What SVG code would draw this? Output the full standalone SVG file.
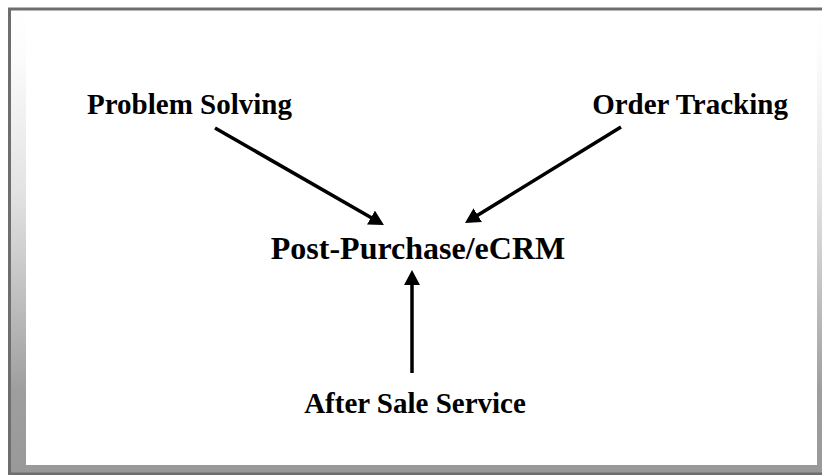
<svg xmlns="http://www.w3.org/2000/svg" width="822" height="475" viewBox="0 0 822 475">
<style>
.lbl{font-family:"Liberation Serif","Times New Roman",serif;font-weight:bold;fill:#000;text-anchor:middle}
.edge{stroke:#000;stroke-width:3.5;fill:none;marker-end:url(#ah)}
</style>
<defs>
<linearGradient id="bg" x1="0" y1="0" x2="0" y2="1">
<stop offset="0" stop-color="#ffffff"/>
<stop offset="0.1" stop-color="#fcfcfc"/>
<stop offset="0.4" stop-color="#e2e2e2"/>
<stop offset="0.65" stop-color="#bbbbbb"/>
<stop offset="0.82" stop-color="#9e9e9e"/>
<stop offset="1" stop-color="#999999"/>
</linearGradient>
<marker id="ah" markerUnits="userSpaceOnUse" markerWidth="16" markerHeight="16" refX="5" refY="8" orient="auto">
<path d="M0,0 L15,8 L0,16 z" fill="#000"/>
</marker>
</defs>
<g id="frame">
<rect x="9.5" y="9" width="815" height="465" fill="url(#bg)" stroke="#6e6e6e" stroke-width="3"/>
<rect x="26" y="11" width="791" height="454" fill="#ffffff"/>
</g>
<g id="connectors">
<line class="edge" x1="215" y1="128" x2="375.3" y2="220"/>
<line class="edge" x1="621" y1="127" x2="473.5" y2="217.8"/>
<line class="edge" x1="412" y1="373" x2="412" y2="280"/>
</g>
<g id="problem-solving"><text class="lbl" x="189.5" y="114" font-size="29">Problem Solving</text></g>
<g id="order-tracking"><text class="lbl" x="690" y="114" font-size="29">Order Tracking</text></g>
<g id="post-purchase"><text class="lbl" x="418" y="259" font-size="32">Post-Purchase/eCRM</text></g>
<g id="after-sale"><text class="lbl" x="415" y="413" font-size="29">After Sale Service</text></g>
</svg>
